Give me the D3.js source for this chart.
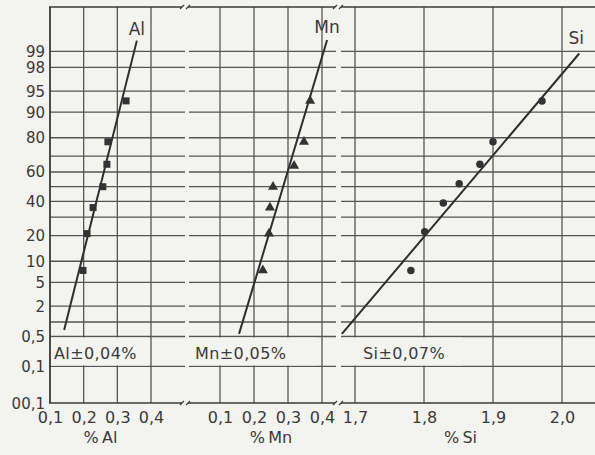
<!DOCTYPE html>
<html>
<head>
<meta charset="utf-8">
<script src="https://cdn.jsdelivr.net/npm/d3@7"></script>
<style>
	html, body { margin: 0; padding: 0; background: #f3f3f0; }
	svg { display: block; }
	text { font-family: "DejaVu Sans", "Liberation Sans", sans-serif; fill: #3a3a3a; }
</style>
</head>
<body>
<svg id="chart" width="595" height="455"></svg>
<script>
// probability grid (cumulative %)
var gridLevels = [99, 98, 95, 90, 80, 70, 60, 50, 40, 30, 20, 10, 5, 2, 1, 0.5, 0.1];
var yLabels = [99, 98, 95, 90, 80, 60, 40, 20, 10, 5, 2, 0.5, 0.1, 0.01];
var yLabelText = ['99', '98', '95', '90', '80', '60', '40', '20', '10', '5', '2', '0,5', '0,1', '00,1'];

// Al
var alTicks = [0.1, 0.2, 0.3, 0.4];
var alValues = [0.198, 0.210, 0.228, 0.257, 0.269, 0.272, 0.326];
var alPct = [7.5, 21, 36, 50, 65, 78, 93];
var alLine = [[0.142, 0.69], [0.358, 99.4]];

// Mn
var mnTicks = [0.1, 0.2, 0.3, 0.4];
var mnValues = [0.226, 0.244, 0.247, 0.256, 0.318, 0.347, 0.365];
var mnPct = [7.5, 21, 36, 50, 64, 78, 93];
var mnLine = [[0.156, 0.57], [0.415, 99.42]];

// Si
var siTicks = [1.7, 1.8, 1.9, 2.0];
var siValues = [1.781, 1.801, 1.828, 1.851, 1.881, 1.900, 1.971];
var siPct = [7.5, 22, 39, 52, 65, 78, 93];
var siLine = [[1.681, 0.57], [2.025, 98.9]];

var svg = d3.select('#chart');
var ink = '#3a3a3a';
var gridInk = '#555';
var yTop = 7, yBottom = 403;

var de = d3.formatLocale({decimal: ',', thousands: '.', grouping: [3], currency: ['', '']});
var fmt = de.format('.1f');

// inverse normal cdf (Acklam)
function probit(p) {
	var a = [-3.969683028665376e+01, 2.209460984245205e+02, -2.759285104469687e+02, 1.383577518672690e+02, -3.066479806614716e+01, 2.506628277459239e+00];
	var b = [-5.447609879822406e+01, 1.615858368580409e+02, -1.556989798598866e+02, 6.680131188771972e+01, -1.328068155288572e+01];
	var c = [-7.784894002430293e-03, -3.223964580411365e-01, -2.400758277161838e+00, -2.549732539343734e+00, 4.374664141464968e+00, 2.938163982698783e+00];
	var d = [7.784695709041462e-03, 3.224671290700398e-01, 2.445134137142996e+00, 3.754408661907416e+00];
	var q, r;
	if (p < 0.02425) {
		q = Math.sqrt(-2 * Math.log(p));
		return (((((c[0]*q+c[1])*q+c[2])*q+c[3])*q+c[4])*q+c[5]) / ((((d[0]*q+d[1])*q+d[2])*q+d[3])*q+1);
	}
	if (p > 1 - 0.02425) {
		q = Math.sqrt(-2 * Math.log(1 - p));
		return -(((((c[0]*q+c[1])*q+c[2])*q+c[3])*q+c[4])*q+c[5]) / ((((d[0]*q+d[1])*q+d[2])*q+d[3])*q+1);
	}
	q = p - 0.5;
	r = q * q;
	return (((((a[0]*r+a[1])*r+a[2])*r+a[3])*r+a[4])*r+a[5])*q / (((((b[0]*r+b[1])*r+b[2])*r+b[3])*r+b[4])*r+1);
}

var zScale = d3.scaleLinear().domain([probit(0.0001), probit(0.999)]).range([yBottom, yTop]);
function y(pct) {
	return zScale(probit(pct / 100));
}

var panels = [
	{name: 'Al', x: d3.scaleLinear().domain([0.1, 0.4]).range([50, 151]), ticks: alTicks, values: alValues, pct: alPct, line: alLine,
		x0: 50, x1: 185, box: [51, 148], note: 'Al\u00b10,04%', noteX: 54, symbol: d3.symbolSquare, size: 49, labelDx: 0, labelDy: -6, title: '%\u2009Al'},
	{name: 'Mn', x: d3.scaleLinear().domain([0.1, 0.4]).range([220, 322]), ticks: mnTicks, values: mnValues, pct: mnPct, line: mnLine,
		x0: 189, x1: 336, box: [189, 316], note: 'Mn\u00b10,05%', noteX: 195, symbol: d3.symbolTriangle, size: 44, labelDx: 0, labelDy: -7, title: '%\u2009Mn'},
	{name: 'Si', x: d3.scaleLinear().domain([1.7, 2.0]).range([355, 562]), ticks: siTicks, values: siValues, pct: siPct, line: siLine,
		x0: 341, x1: 595, box: [343, 462], note: 'Si\u00b10,07%', noteX: 363, symbol: d3.symbolCircle, size: 44, labelDx: -3, labelDy: -10, title: '%\u2009Si'}
];

panels.forEach(function (p) {
	// horizontal probability lines, broken at the panel joins
	svg.append('g').selectAll('line')
	.data(gridLevels)
	.enter().append('line')
	.attr('x1', p.x0).attr('x2', p.x1)
	.attr('y1', function (d) { return y(d); })
	.attr('y2', function (d) { return y(d); })
	.attr('stroke', gridInk).attr('stroke-width', 1.3);

	svg.append('g').selectAll('line')
	.data(p.ticks)
	.enter().append('line')
	.attr('x1', function (d) { return p.x(d); })
	.attr('x2', function (d) { return p.x(d); })
	.attr('y1', yTop).attr('y2', yBottom)
	.attr('stroke', gridInk).attr('stroke-width', 1.3);

	// blank label box over the grid
	svg.append('rect')
	.attr('x', p.box[0]).attr('width', p.box[1] - p.box[0])
	.attr('y', y(0.5) + 1).attr('height', y(0.1) - y(0.5) - 2)
	.attr('fill', '#f3f3f0');

	svg.append('text')
	.attr('x', p.noteX).attr('y', y(0.5) + 22)
	.style('font-size', '16px')
	.style('letter-spacing', '0.4px')
	.text(p.note);

	// x axis
	var axis = d3.axisBottom(p.x).tickValues(p.ticks).tickSize(0).tickPadding(9).tickFormat(fmt);
	var g = svg.append('g').attr('transform', 'translate(0,' + yBottom + ')').call(axis);
	g.select('.domain').remove();
	g.selectAll('text').style('font-size', '16px').attr('fill', ink);

	svg.append('text')
	.attr('x', (p.x.range()[0] + p.x.range()[1]) / 2 + (p.name == 'Si' ? 2 : 0))
	.attr('y', 443)
	.attr('text-anchor', 'middle')
	.style('font-size', '16px')
	.text(p.title);

	// fitted line
	svg.append('line')
	.attr('x1', p.x(p.line[0][0])).attr('y1', y(p.line[0][1]))
	.attr('x2', p.x(p.line[1][0])).attr('y2', y(p.line[1][1]))
	.attr('stroke', '#2e2e2e').attr('stroke-width', 2);

	svg.append('text')
	.attr('x', p.x(p.line[1][0]) + p.labelDx)
	.attr('y', y(p.line[1][1]) + p.labelDy)
	.attr('text-anchor', 'middle')
	.style('font-size', '17px')
	.text(p.name);

	// measured points
	svg.append('g').selectAll('path')
	.data(p.values)
	.enter().append('path')
	.attr('d', d3.symbol().type(p.symbol).size(p.size))
	.attr('transform', function (d, i) { return 'translate(' + p.x(d) + ',' + y(p.pct[i]) + ')'; })
	.attr('fill', '#333');
});

// frame: left edge, top and bottom with break marks
svg.append('line').attr('x1', 50).attr('x2', 50).attr('y1', yTop).attr('y2', yBottom)
.attr('stroke', ink).attr('stroke-width', 1.6);

var breaks = [185, 338];
[yTop, yBottom].forEach(function (yy) {
	var segs = [[49, breaks[0] - 3], [breaks[0] + 3, breaks[1] - 3], [breaks[1] + 3, 595]];
	segs.forEach(function (s) {
		svg.append('line').attr('x1', s[0]).attr('x2', s[1]).attr('y1', yy).attr('y2', yy)
		.attr('stroke', ink).attr('stroke-width', 1.6);
	});
	breaks.forEach(function (bx) {
		svg.append('path')
		.attr('d', 'M' + (bx - 5) + ',' + (yy + 2) + 'L' + (bx - 1) + ',' + (yy - 2) + 'M' + (bx + 1) + ',' + (yy + 2) + 'L' + (bx + 5) + ',' + (yy - 2))
		.attr('stroke', ink).attr('stroke-width', 1.2).attr('fill', 'none');
	});
});

// probability labels
svg.append('g').selectAll('text')
.data(yLabels)
.enter().append('text')
.attr('x', 45)
.attr('y', function (d) { return y(d) + 5.5; })
.attr('text-anchor', 'end')
.style('font-size', '15px')
.text(function (d, i) { return yLabelText[i]; });
</script>
</body>
</html>
